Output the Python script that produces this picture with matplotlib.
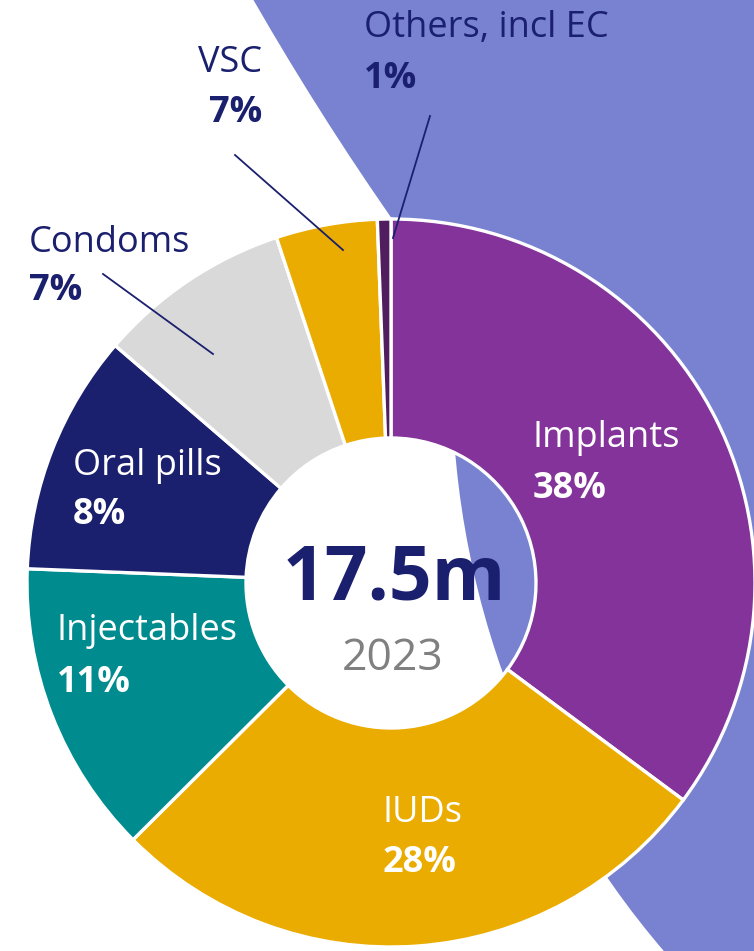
import matplotlib.pyplot as plt
from matplotlib.patches import Circle

plt.rcParams["font.family"] = ["Open Sans", "DejaVu Sans"]

# --- data -------------------------------------------------------------
methods = ["Implants", "IUDs", "Injectables", "Oral pills", "Condoms", "VSC", "Others, incl EC"]
pct_labels = ["38%", "28%", "11%", "8%", "7%", "7%", "1%"]
# slice sizes as they are drawn in the picture (not quite the printed %)
shares = [35.2, 27.4, 13.1, 10.7, 8.6, 4.5, 0.6]
colors = ["#833399", "#EAAC00", "#008B8F", "#1A1F6E", "#D9D9D9", "#EAAC00", "#501E5F"]
total_label = "17.5m"
year_label = "2023"

NAVY = "#1A1F6E"
LAVENDER = "#7882D0"
W, H = 754, 951


def py(y):
    """pixel row (from top) -> data y"""
    return H - y


fig = plt.figure(figsize=(W / 100, H / 100), dpi=100)
ax = fig.add_axes([0, 0, 1, 1])

# decorative lavender background (two big circles)
ax.add_patch(Circle((1333, py(378)), 881, color=LAVENDER, lw=0, zorder=0))
ax.add_patch(Circle((2855, 2445), 3000, color=LAVENDER, lw=0, zorder=0))

# donut
cx, cy, R = 391, py(583), 364
ax.pie(shares, colors=colors, startangle=90, counterclock=False,
       center=(cx, cy), radius=R,
       wedgeprops=dict(width=R - 145, edgecolor="white", linewidth=2.4))

# slice labels: (x, name baseline, pct baseline, ha, colour), pixel rows
label_pos = [
    (533, 447, 498, "left", "white"),
    (383, 822, 872, "left", "white"),
    (57, 640, 692, "left", "white"),
    (73, 475, 524, "left", "white"),
    (29, 252, 300, "left", NAVY),
    (262, 72, 122, "right", NAVY),
    (364, 37, 88, "left", NAVY),
]
for name, pct, (x, y1, y2, ha, c) in zip(methods, pct_labels, label_pos):
    ax.text(x, py(y1), name, ha=ha, va="baseline", fontsize=26, color=c, zorder=5)
    ax.text(x, py(y2), pct, ha=ha, va="baseline", fontsize=26, color=c,
            fontweight="bold", zorder=5)

# leader lines for the small slices
leaders = {
    "Condoms": ((103, 274), (213, 354)),
    "VSC": ((235, 155), (343, 250)),
    "Others, incl EC": ((430, 116), (393, 238)),
}
for (x0, y0), (x1, y1) in leaders.values():
    ax.plot([x0, x1], [py(y0), py(y1)], color=NAVY, lw=1.3, zorder=6)

# centre text
ax.text(394, py(599), total_label, ha="center", va="baseline", fontsize=54,
        fontweight="bold", color=NAVY, zorder=5)
ax.text(393, py(670), year_label, ha="center", va="baseline", fontsize=32,
        color="#808080", zorder=5)

ax.set_xlim(0, W)
ax.set_ylim(0, H)
ax.set_aspect("equal")
ax.axis("off")

fig.savefig("out.png", dpi=100)
